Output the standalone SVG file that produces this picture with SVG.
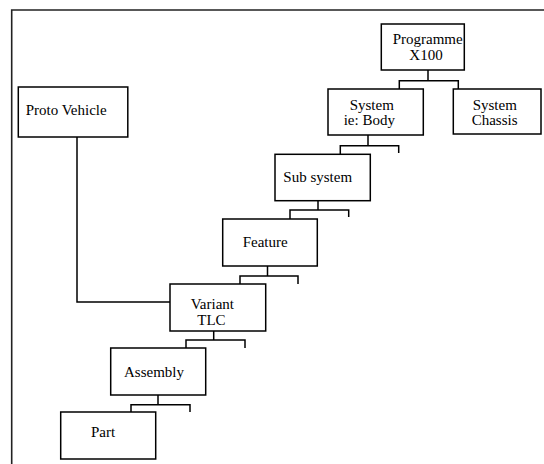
<svg xmlns="http://www.w3.org/2000/svg" width="544" height="464" viewBox="0 0 544 464">
<style>
.box{fill:#fff;stroke:#000;stroke-width:1.5}
.lbl{font-family:"Liberation Serif","Times New Roman",serif;font-size:15px;fill:#000}
.con{fill:none;stroke:#000;stroke-width:1.5}
.frame{fill:none;stroke:#222;stroke-width:1.6}
</style>
<rect width="544" height="464" fill="#fff"/>
<path class="frame" d="M11.7,464 V10 H544"/>
<g id="connectors">
<path class="con" d="M77,137 V302 H170"/>
<path class="con" d="M428,70 V80.7 M399.3,89 V80.7 H458.3 V89"/>
<path class="con" d="M368,135 V145.7 M340.3,154 V145.7 H398.7 V153"/>
<path class="con" d="M318,201 V210 M290,219 V210 H348.7 V217"/>
<path class="con" d="M267.5,266 V276 M240,284 V276 H298 V284"/>
<path class="con" d="M213.7,331 V340 M186,348 V340 H245 V348"/>
<path class="con" d="M158,395 V404.7 M131,412 V404.7 H190 V412"/>
</g>
<g id="proto">
<rect class="box" x="18.3" y="87" width="109.5" height="50"/>
<text class="lbl" x="25.7" y="115">Proto Vehicle</text>
</g>
<g id="programme">
<rect class="box" x="381.3" y="24" width="83" height="46"/>
<text class="lbl" x="392.7" y="44">Programme</text>
<text class="lbl" x="409.3" y="60">X100</text>
</g>
<g id="system-body">
<rect class="box" x="328" y="89" width="95.3" height="46"/>
<text class="lbl" x="349.7" y="110">System</text>
<text class="lbl" x="343.7" y="125">ie: Body</text>
</g>
<g id="system-chassis">
<rect class="box" x="453.3" y="89" width="87.7" height="45"/>
<text class="lbl" x="472.7" y="110">System</text>
<text class="lbl" x="471.7" y="125">Chassis</text>
</g>
<g id="subsystem">
<rect class="box" x="275" y="154.3" width="95.3" height="46.4"/>
<text class="lbl" x="283.3" y="182">Sub system</text>
</g>
<g id="feature">
<rect class="box" x="222.7" y="219" width="94.6" height="47"/>
<text class="lbl" x="242.7" y="247">Feature</text>
</g>
<g id="variant">
<rect class="box" x="170" y="284" width="95.7" height="47"/>
<text class="lbl" x="190.7" y="309">Variant</text>
<text class="lbl" x="197.3" y="324.5">TLC</text>
</g>
<g id="assembly">
<rect class="box" x="110.7" y="348" width="95" height="47"/>
<text class="lbl" x="124" y="377">Assembly</text>
</g>
<g id="part">
<rect class="box" x="60.7" y="412" width="95" height="47"/>
<text class="lbl" x="91" y="437">Part</text>
</g>
</svg>
